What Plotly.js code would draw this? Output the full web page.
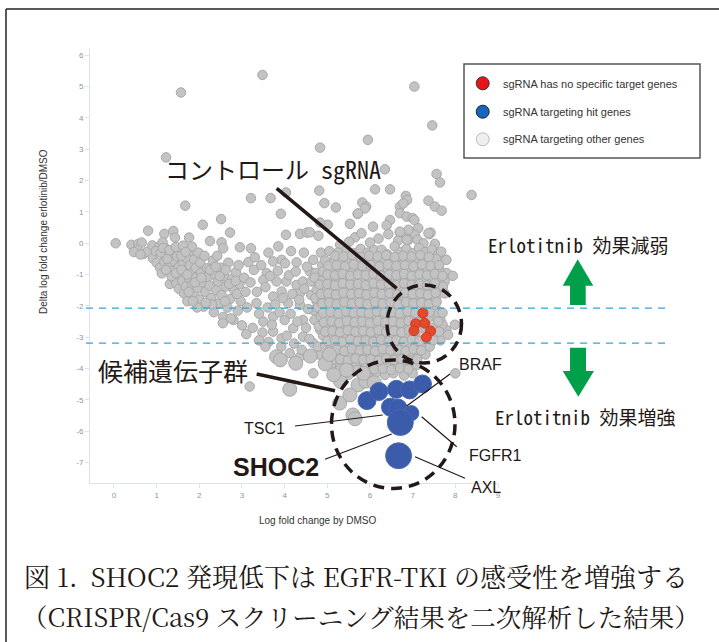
<!DOCTYPE html>
<html><head><meta charset="utf-8">
<script src="https://cdn.plot.ly/plotly-3.0.1.min.js"></script>
<style>body{margin:0;background:#fff}#chart{width:719px;height:642px}</style>
</head><body><div id="chart"></div>
<script>
// ---------- data ----------
const xTickVals = [0,1,2,3,4,5,6,7,8,9];
const xTickText = ["0","1","2","3","4","5","6","7","8","9"];
const yTickVals = [-7,-6,-5,-4,-3,-2,-1,0,1,2,3,4,5,6];
const yTickText = ["-7","-6","-5","-4","-3","-2","-1","0","1","2","3","4","5","6"];
const thresholds = [-2.07, -3.19];

const legendLabels = ["sgRNA has no specific target genes","sgRNA targeting hit genes","sgRNA targeting other genes"];

// sgRNA has no specific target genes (control)
const ctrlX = [7.24, 7.07, 7.28, 7.03, 7.42, 7.32];
const ctrlY = [-2.23, -2.57, -2.55, -2.79, -2.80, -3.00];

// sgRNA targeting hit genes
const hitX = [5.93, 6.21, 6.62, 6.93, 7.23, 6.48, 6.66, 6.97, 6.71, 6.67];
const hitY = [-5.02, -4.73, -4.66, -4.68, -4.49, -5.23, -5.26, -5.42, -5.72, -6.78];
const hitSize = [18, 18, 18, 18, 18, 18, 18, 15, 26, 26];

// sgRNA targeting other genes
const outlierPts = [[1.57,4.81],[3.48,5.37],[7.04,5.0],[7.46,3.76],[5.95,3.30],[4.83,3.05],[1.22,2.74],[6.35,2.36],[7.56,2.21],[7.64,1.94],[6.12,1.72],[6.47,1.72],[4.81,1.68],[4.03,1.62],[8.38,1.54],[3.21,1.44],[3.67,1.44],[6.84,1.51],[7.37,1.36],[4.93,1.28],[5.2,1.14],[5.82,1.30],[5.91,1.17],[6.70,1.17],[7.52,1.17],[7.68,1.04],[1.67,1.20],[3.91,0.94],[5.71,0.94],[6.70,0.96],[6.86,0.85],[7.0,0.80],[7.04,0.74],[2.51,0.77],[6.47,0.74],[6.39,0.57],[5.53,0.62],[5.01,0.59],[4.83,0.66],[2.08,0.59],[0.04,0.0],[3.18,-4.57],[6.87,1.38],[6.78,1.27],[5.88,1.11],[5.72,0.95],[6.07,0.53],[7.13,0.48],[8.0,-4.15]];

const leftArmPts = [[0.80,0.40],[1.18,0.30],[1.39,0.39],[1.43,0.18],[1.76,0.18],[2.25,0.07],[2.72,0.34],[2.52,0.03],[2.56,-0.16],[2.95,-0.13],[3.21,-0.16],
[0.41,-0.05],[0.57,-0.02],[0.65,0.02],[0.55,-0.21],[0.69,-0.34],[0.78,-0.27],[0.90,-0.07],[0.91,-0.48],[1.06,-0.11],[1.14,0.03],[1.23,-0.19],[1.20,-0.43],[1.59,-0.19],[1.74,-0.32],[1.83,-0.11],[0.47,-0.28],[0.62,-0.36],[0.98,-0.25],[1.0,-0.62],[1.08,-0.78],[1.12,-0.96],[1.18,-0.60],[1.28,-0.72],[1.33,-0.34],[1.38,-0.88],[1.42,-0.58],[1.48,-0.42],[1.52,-0.75],[1.55,-1.02],[1.62,-0.62],[1.66,-0.86],[1.70,-0.48],[1.78,-0.70],[1.82,-0.95],[1.88,-0.52],[1.92,-0.78],[1.98,-0.30],[2.02,-0.62],[1.31,-1.30],[1.40,-1.12],[1.46,-1.28],[1.52,-1.45],[1.60,-1.20],[1.64,-1.60],[1.68,-1.38],[1.72,-1.85],[1.76,-1.12],[1.84,-1.32],[1.88,-1.62],[1.92,-1.10],[1.96,-1.42],[2.0,-1.80],[2.04,-0.95],[2.08,-1.25],[2.10,-2.02],[2.14,-1.55],[2.18,-0.80],[2.20,-1.08],[2.24,-1.35],[2.28,-1.75],[2.32,-0.55],[2.34,-2.20],[2.36,-1.00],[2.40,-1.50],[2.44,-1.22],[2.46,-1.92],[2.50,-0.78],[2.52,-1.65],[2.56,-2.35],[2.58,-1.05],[2.62,-1.38],[2.66,-2.05],[2.68,-0.62],[2.72,-1.78],[2.76,-1.15],[2.80,-2.45],[2.82,-1.50],[2.86,-0.92],[2.90,-2.15],[2.94,-1.30],[2.97,-1.85],[3.0,-2.62],
[1.10,-0.30],[1.25,-0.50],[1.35,-1.05],[1.58,-0.40],[1.75,-1.55],[1.95,-2.05],[2.12,-0.40],[2.30,-1.95],[2.60,-1.85],[2.74,-2.40],[2.88,-1.62],[2.42,-0.40],[2.15,-1.90],[1.85,-1.85],[2.55,-2.55],
[1.15,-0.15],[1.30,-0.22],[1.45,-0.12],[1.62,-0.08],[1.68,-0.28],[1.22,-0.85],[1.45,-0.95],[1.58,-0.85],[1.72,-1.00],[1.90,-1.25],[2.05,-1.10],[2.25,-0.85],[2.38,-0.75],[2.48,-1.05],[2.62,-0.85],[2.70,-1.30],[2.85,-1.20],[2.92,-0.70],[3.05,-1.10],[3.08,-1.55],[3.12,-2.05],[3.15,-0.60]];

const midBandPts = [[3.73,-0.58],[3.93,-0.53],[4.01,-0.64],[4.28,-0.61],[4.67,-0.53],[5.06,-0.64],[4.59,-0.90],[3.58,-0.96],[3.50,-1.17],[3.81,-1.22],[4.04,-1.22],[4.28,-1.33],[4.43,-1.22],[4.63,-1.22],[4.98,-1.49],[4.36,-1.59],[3.93,-1.54],[3.73,-1.70],[3.34,-1.91],[4.08,-1.91],[4.36,-1.97],[4.67,-2.13],[5.14,-2.02],[4.90,-2.45],[4.43,-2.45],[4.00,-2.45],[3.73,-2.34],[3.50,-2.50],[4.20,-2.71],[3.73,-2.82],[3.93,-3.03],[4.43,-2.98],[4.83,-2.76],[5.14,-2.66],[5.06,-2.98],[4.67,-3.19],[4.12,-3.51],[4.36,-3.62],[3.89,-3.78],[4.83,-3.56],[4.67,-4.15],
[3.20,-1.25],[3.28,-0.85],[3.35,-1.55],[3.40,-2.25],[3.45,-0.70],[3.48,-2.85],[3.55,-1.40],[3.60,-2.05],[3.62,-3.15],[3.66,-1.05],[3.70,-2.60],[3.78,-1.95],[3.84,-0.88],[3.88,-2.20],[3.92,-3.30],[3.96,-1.75],[4.05,-2.95],[4.10,-1.02],[4.14,-2.25],[4.18,-1.62],[4.22,-3.20],[4.26,-0.90],[4.30,-2.50],[4.34,-1.80],[4.40,-3.40],[4.46,-1.45],[4.50,-2.70],[4.52,-0.75],[4.55,-2.10],[4.58,-3.05],[4.62,-1.65],[4.70,-2.45],[4.72,-0.95],[4.75,-1.85],[4.78,-3.30],[4.80,-1.35],[4.86,-2.20],[4.88,-0.70],[4.92,-1.70],[4.95,-2.95],[3.25,-2.70],[3.55,-3.30],[3.30,-0.45],[3.62,-0.30],[4.15,-0.25],[4.36,0.30],[4.52,0.34],[4.59,0.35],[4.79,0.24],[4.03,0.27],[4.85,-0.30],[4.45,-0.30],[3.85,-0.10],[3.10,-2.90],[3.40,-3.10]];

const rightClusterPts = [[5.65,0.19],[5.80,0.32],[6.43,0.29],[6.70,0.34],[6.82,0.32],[6.94,0.32],[7.05,0.27],[7.39,0.29],[7.42,0.34],[5.51,0.05],[6.66,0.09],[6.90,0.11],[7.11,0.11],[7.25,0.0],[7.52,-0.02],[6.9,0.43],[6.7,0.37],[7.37,0.32],[6.86,0.11],[6.2,0.15],[6.0,0.02],[5.3,-0.05],
[5.05,-0.25],[5.25,-0.30],[5.45,-0.20],[5.62,-0.32],[5.78,-0.18],[5.95,-0.30],[6.10,-0.22],[6.27,-0.21],[6.40,-0.35],[6.58,-0.10],[6.72,-0.28],[6.85,-0.18],[7.00,-0.32],[7.15,-0.15],[7.30,-0.28],[7.45,-0.20],[7.60,-0.35],[7.67,-0.27],
[4.95,-0.55],[5.15,-0.62],[5.35,-0.50],[5.50,-0.65],[5.68,-0.55],[5.85,-0.68],[6.02,-0.50],[6.18,-0.60],[6.35,-0.52],[6.50,-0.66],[6.65,-0.55],[6.80,-0.62],[6.95,-0.50],[7.10,-0.64],[7.25,-0.52],[7.40,-0.60],[7.55,-0.50],[7.79,-0.53],
[4.90,-0.90],[5.08,-0.82],[5.25,-0.92],[5.42,-0.80],[5.58,-0.95],[5.75,-0.85],[5.92,-0.92],[6.08,-0.80],[6.25,-0.90],[6.42,-0.82],[6.58,-0.95],[6.75,-0.85],[6.90,-0.92],[7.05,-0.80],[7.20,-0.90],[7.35,-0.82],[7.50,-0.95],[7.64,-0.88],[7.80,-0.95],[7.94,-1.04],
[4.70,-1.10],[4.88,-1.20],[5.05,-1.12],[5.20,-1.22],[5.38,-1.10],[5.55,-1.20],[5.70,-1.12],[5.86,-1.22],[6.02,-1.10],[6.18,-1.20],[6.34,-1.12],[6.50,-1.22],[6.66,-1.10],[6.82,-1.20],[6.98,-1.12],[7.14,-1.22],[7.30,-1.10],[7.46,-1.20],[7.62,-1.12],[7.75,-1.22],
[4.75,-1.50],[4.92,-1.42],[5.10,-1.50],[5.28,-1.40],[5.45,-1.52],[5.62,-1.42],[5.78,-1.50],[5.95,-1.40],[6.12,-1.52],[6.28,-1.42],[6.45,-1.50],[6.62,-1.40],[6.78,-1.52],[6.95,-1.42],[7.10,-1.50],[7.26,-1.40],[7.42,-1.52],[7.58,-1.42],[7.71,-1.38],
[4.72,-1.75],[4.88,-1.82],[5.05,-1.72],[5.22,-1.80],[5.40,-1.70],[5.56,-1.82],[5.72,-1.72],[5.88,-1.80],[6.05,-1.70],[6.22,-1.82],[6.38,-1.72],[6.55,-1.80],[6.72,-1.70],[6.88,-1.82],[7.05,-1.72],[7.22,-1.80],[7.38,-1.70],[7.55,-1.78],[7.75,-1.60],
[4.78,-2.05],[4.95,-2.12],[5.12,-2.02],[5.30,-2.10],[5.48,-2.00],[5.64,-2.12],[5.80,-2.02],[5.96,-2.10],[6.12,-2.00],[6.28,-2.12],[6.44,-2.02],[6.60,-2.10],[6.76,-2.00],[6.92,-2.12],[7.08,-2.02],[7.40,-2.05],[7.56,-2.12],
[4.85,-2.35],[5.02,-2.42],[5.20,-2.32],[5.36,-2.40],[5.52,-2.30],[5.68,-2.42],[5.84,-2.32],[6.00,-2.40],[6.16,-2.30],[6.32,-2.42],[6.48,-2.32],[6.64,-2.40],[6.80,-2.30],[6.92,-2.42],[7.52,-2.35],[7.65,-2.45],
[4.80,-2.65],[4.98,-2.72],[5.15,-2.62],[5.32,-2.70],[5.48,-2.60],[5.64,-2.72],[5.80,-2.62],[5.96,-2.70],[6.12,-2.60],[6.28,-2.72],[6.44,-2.62],[6.60,-2.70],[6.76,-2.62],[6.88,-2.75],[7.55,-2.65],[7.79,-2.77],[7.99,-2.60],
[4.90,-2.95],[5.08,-3.02],[5.25,-2.92],[5.42,-3.00],[5.58,-2.90],[5.74,-3.02],[5.90,-2.92],[6.06,-3.00],[6.22,-2.90],[6.38,-3.02],[6.54,-2.92],[6.70,-3.00],[6.86,-2.92],[7.10,-3.05],[7.50,-2.95],[7.83,-2.92],
[4.95,-3.25],[5.12,-3.32],[5.30,-3.22],[5.46,-3.30],[5.62,-3.20],[5.78,-3.32],[5.94,-3.22],[6.10,-3.30],[6.26,-3.20],[6.42,-3.32],[6.58,-3.22],[6.74,-3.30],[6.90,-3.22],[7.06,-3.32],[7.22,-3.25],[7.40,-3.30],
[5.00,-3.55],[5.18,-3.62],[5.36,-3.52],[5.52,-3.60],[5.68,-3.50],[5.84,-3.62],[6.00,-3.52],[6.16,-3.60],[6.32,-3.50],[6.48,-3.62],[6.64,-3.52],[6.80,-3.60],[6.96,-3.52],[7.12,-3.62],[7.30,-3.55],
[5.10,-3.85],[5.30,-3.92],[5.50,-3.82],[5.68,-3.90],[5.86,-3.80],[6.04,-3.92],[6.22,-3.82],[6.40,-3.90],[6.58,-3.82],[6.76,-3.90],[6.94,-3.82],[7.10,-3.88],
[5.25,-4.15],[5.50,-4.20],[5.75,-4.12],[5.95,-4.22],[6.15,-4.12],[6.35,-4.20],[6.55,-4.15],[6.80,-4.22],[7.00,-4.15],
[7.20,-2.05],[7.25,-2.35],[7.35,-2.40],[7.45,-2.70],[7.20,-2.70],[7.30,-3.05],[7.65,-3.10],[7.15,-2.50],[7.60,-2.25],[7.40,-2.90],[7.70,-2.60],[7.05,-2.45],[7.10,-2.80]];

const clusterCorePts = [[5.18,-0.40],[5.38,-0.42],[5.58,-0.38],[5.78,-0.44],[5.98,-0.40],[6.18,-0.42],[6.38,-0.38],[6.58,-0.44],[6.78,-0.40],[6.98,-0.42],[7.18,-0.38],[7.38,-0.44],
[5.02,-0.72],[5.22,-0.70],[5.42,-0.74],[5.62,-0.68],[5.82,-0.72],[6.02,-0.70],[6.22,-0.74],[6.42,-0.68],[6.62,-0.72],[6.82,-0.70],[7.02,-0.74],[7.22,-0.68],[7.42,-0.72],[7.62,-0.70],
[5.00,-1.00],[5.18,-1.02],[5.36,-0.98],[5.54,-1.04],[5.72,-1.00],[5.90,-1.02],[6.08,-0.98],[6.26,-1.04],[6.44,-1.00],[6.62,-1.02],[6.80,-0.98],[6.98,-1.04],[7.16,-1.00],[7.34,-1.02],[7.52,-0.98],[7.70,-1.04],
[4.82,-1.32],[5.00,-1.30],[5.18,-1.34],[5.36,-1.28],[5.54,-1.32],[5.72,-1.30],[5.90,-1.34],[6.08,-1.28],[6.26,-1.32],[6.44,-1.30],[6.62,-1.34],[6.80,-1.28],[6.98,-1.32],[7.16,-1.30],[7.34,-1.34],[7.52,-1.28],
[4.85,-1.62],[5.02,-1.60],[5.20,-1.64],[5.38,-1.58],[5.56,-1.62],[5.74,-1.60],[5.92,-1.64],[6.10,-1.58],[6.28,-1.62],[6.46,-1.60],[6.64,-1.64],[6.82,-1.58],[7.00,-1.62],[7.18,-1.60],[7.36,-1.64],[7.54,-1.58],
[4.88,-1.92],[5.05,-1.90],[5.22,-1.94],[5.40,-1.88],[5.58,-1.92],[5.76,-1.90],[5.94,-1.94],[6.12,-1.88],[6.30,-1.92],[6.48,-1.90],[6.66,-1.94],[6.84,-1.88],[7.02,-1.92],[7.20,-1.90],[7.38,-1.94],[7.56,-1.88],
[4.90,-2.22],[5.08,-2.20],[5.26,-2.24],[5.44,-2.18],[5.62,-2.22],[5.80,-2.20],[5.98,-2.24],[6.16,-2.18],[6.34,-2.22],[6.52,-2.20],[6.70,-2.24],[6.88,-2.18],[7.06,-2.22],[7.40,-2.20],[7.70,-2.22],
[4.92,-2.52],[5.10,-2.50],[5.28,-2.54],[5.46,-2.48],[5.64,-2.52],[5.82,-2.50],[6.00,-2.54],[6.18,-2.48],[6.36,-2.52],[6.54,-2.50],[6.72,-2.54],[6.90,-2.48],[7.60,-2.50],
[4.95,-2.82],[5.12,-2.80],[5.30,-2.84],[5.48,-2.78],[5.66,-2.82],[5.84,-2.80],[6.02,-2.84],[6.20,-2.78],[6.38,-2.82],[6.56,-2.80],[6.74,-2.84],[6.92,-2.78],[7.62,-2.82],
[5.00,-3.12],[5.18,-3.10],[5.36,-3.14],[5.54,-3.08],[5.72,-3.12],[5.90,-3.10],[6.08,-3.14],[6.26,-3.08],[6.44,-3.12],[6.62,-3.10],[6.80,-3.14],[6.98,-3.08],[7.16,-3.12],[7.48,-3.10],
[5.05,-3.42],[5.22,-3.40],[5.40,-3.44],[5.58,-3.38],[5.76,-3.42],[5.94,-3.40],[6.12,-3.44],[6.30,-3.38],[6.48,-3.42],[6.66,-3.40],[6.84,-3.44],[7.02,-3.38],[7.20,-3.42],
[5.12,-3.72],[5.30,-3.70],[5.48,-3.74],[5.66,-3.68],[5.84,-3.72],[6.02,-3.70],[6.20,-3.74],[6.38,-3.68],[6.56,-3.72],[6.74,-3.70],[6.92,-3.74],[7.10,-3.70],
[5.30,-4.02],[5.50,-4.00],[5.70,-4.04],[5.90,-3.98],[6.10,-4.02],[6.30,-4.00],[6.50,-4.04],[6.70,-3.98],[6.90,-4.02]];

const bigPts = [[5.31,-4.41],[5.29,-5.10],[5.60,-5.48],[5.65,-5.60],[4.12,-4.66],[5.72,-4.52],[5.53,-4.84],[3.81,-3.62],[3.90,-3.72],[4.26,-3.83],[5.90,-4.40],[6.10,-4.45],[5.45,-4.05],[5.85,-4.15],[4.95,-3.85],[5.15,-4.20],[5.05,-3.55],[4.60,-3.60]];

// ---------- build ----------
const otherPts = outlierPts.concat(leftArmPts, midBandPts, rightClusterPts, clusterCorePts);
const W = 719, H = 642, ML = 90, MR = 221, MT = 48, MB = 159;
const PW = W - ML - MR, PH = H - MT - MB;
const px = X => (X - ML) / PW;
const py = Y => (H - MB - Y) / PH;
const INK = '#231815';
const JP = 'Noto Sans Mono CJK JP, Noto Sans CJK JP, sans-serif';
const JPSERIF = 'Noto Serif CJK JP, Noto Sans Mono CJK JP, Noto Sans CJK JP, serif';
const SANS = 'Liberation Sans, Arial, sans-serif';

const grayMarker = {color:'#c3c3c3', opacity:1, line:{color:'#a8a8a8', width:1}};
const traces = [
  {type:'scatter', mode:'markers', name:legendLabels[2], x:otherPts.map(p=>p[0]), y:otherPts.map(p=>p[1]),
   marker:Object.assign({size:9.5}, grayMarker), showlegend:false, hoverinfo:'skip'},
  {type:'scatter', mode:'markers', name:legendLabels[2], x:bigPts.map(p=>p[0]), y:bigPts.map(p=>p[1]),
   marker:Object.assign({size:14}, grayMarker), showlegend:false, hoverinfo:'skip'},
  {type:'scatter', mode:'markers', name:legendLabels[1], x:hitX, y:hitY,
   marker:{size:hitSize, opacity:1, color:'#3b5bab', line:{color:'#4a68b5', width:1}}, showlegend:false, hoverinfo:'skip'},
  {type:'scatter', mode:'markers', name:legendLabels[0], x:ctrlX, y:ctrlY,
   marker:{size:10, opacity:1, color:'#e14a2c', line:{color:'#cf3b22', width:1}}, showlegend:false, hoverinfo:'skip'}
];

function line(x0,y0,x1,y1,w,dash){
  return {type:'line', xref:'paper', yref:'paper', x0:px(x0), y0:py(y0), x1:px(x1), y1:py(y1),
          line:{color:INK, width:w, dash:dash||'solid'}, layer:'above'};
}
function poly(pts, color){
  const d = pts.map((p,i)=>(i?'L':'M')+px(p[0]).toFixed(5)+','+py(p[1]).toFixed(5)).join(' ')+' Z';
  return {type:'path', xref:'paper', yref:'paper', path:d, fillcolor:color, line:{width:0}, layer:'above'};
}
const shapes = [
  {type:'line', xref:'paper', yref:'paper', x0:px(6), x1:px(719), y0:py(9), y1:py(9), line:{color:'#222', width:1.5}},
  {type:'line', xref:'paper', yref:'paper', x0:px(6), x1:px(6), y0:py(9), y1:py(642), line:{color:'#222', width:1.5}},
  ...thresholds.map(t=>({type:'line', xref:'paper', yref:'y', x0:px(86), x1:px(670), y0:t, y1:t,
      line:{color:'#2ba6e0', width:1.3, dash:'7px,6px'}, layer:'above'})),
  {type:'circle', xref:'paper', yref:'paper', x0:px(387), x1:px(461.5), y0:py(363), y1:py(285),
   line:{color:INK, width:3.5, dash:'11px,7px'}, layer:'above'},
  {type:'circle', xref:'paper', yref:'paper', x0:px(331.5), x1:px(455), y0:py(488.5), y1:py(360),
   line:{color:INK, width:3.5, dash:'11px,7px'}, layer:'above'},
  line(276.7,188.3,396.7,288.3,3.5),
  line(256.7,374,335,390.7,3.5),
  line(325,459.3,391.7,434,1.2),
  line(295,426,382.7,415,1.2),
  line(450,374,406.7,406,1.2),
  line(421.7,416.7,456.7,446.7,1.2),
  line(415,456.7,465,478.3,1.2),
  poly([[577.7,259.3],[593.3,285.7],[585.7,285.7],[585.7,305],[570,305],[570,285.7],[562.7,285.7]], '#00a04a'),
  poly([[570,347.7],[586,347.7],[586,371],[594,371],[578.3,396.7],[562.7,371],[570,371]], '#00a04a'),
  {type:'rect', xref:'paper', yref:'paper', x0:px(464), x1:px(700), y0:py(158), y1:py(64),
   fillcolor:'#ffffff', line:{color:'#555555', width:1.5}, layer:'above'},
  {type:'circle', xref:'paper', yref:'paper', x0:px(476.2), x1:px(489.2), y0:py(89.8), y1:py(76.8),
   fillcolor:'#e8141c', line:{color:'#333', width:1}, layer:'above'},
  {type:'circle', xref:'paper', yref:'paper', x0:px(476.2), x1:px(489.2), y0:py(118.2), y1:py(105.2),
   fillcolor:'#1566bd', line:{color:'#222', width:1}, layer:'above'},
  {type:'circle', xref:'paper', yref:'paper', x0:px(476.2), x1:px(489.2), y0:py(145.8), y1:py(132.8),
   fillcolor:'#eeeeee', line:{color:'#bbbbbb', width:1}, layer:'above'}
];

function ann(text, X, Y, size, family, opts){
  return Object.assign({text:text, xref:'paper', yref:'paper', x:px(X), y:py(Y), xanchor:'left', yanchor:'middle',
    showarrow:false, font:{size:size, family:family, color:INK}}, opts||{});
}
const annotations = [
  ann('コントロール sgRNA', 163, 168, 24, JP),
  ann('候補遺伝子群', 96, 370, 25, JP),
  ann('<b>SHOC2</b>', 231, 467, 25, SANS),
  ann('TSC1', 242, 428, 16, SANS),
  ann('BRAF', 457, 364, 16, SANS),
  ann('FGFR1', 467, 455, 16, SANS),
  ann('AXL', 469, 487, 16, SANS),
  ann('Erlotitnib 効果減弱', 486, 244, 19, JP),
  ann('Erlotitnib 効果増強', 493, 416, 19, JP),
  ann(legendLabels[0], 501, 83.5, 11, SANS, {font:{size:11, family:SANS, color:'#333'}}),
  ann(legendLabels[1], 501, 111.5, 11, SANS, {font:{size:11, family:SANS, color:'#333'}}),
  ann(legendLabels[2], 501, 139, 11, SANS, {font:{size:11, family:SANS, color:'#333'}}),
  ann('Delta log fold change erlotinib/DMSO', 43, 232, 10, SANS, {xanchor:'center', textangle:-90, font:{size:10, family:SANS, color:'#333'}}),
  ann('Log fold change by DMSO', 318, 520, 10, SANS, {xanchor:'center', font:{size:10, family:SANS, color:'#333'}}),
  ann('図 1.  SHOC2 発現低下は EGFR-TKI の感受性を増強する', 22, 575, 26, JPSERIF),
  ann('（CRISPR/Cas9 スクリーニング結果を二次解析した結果）', 20, 616, 25.5, JPSERIF)
];

const axisCommon = {showgrid:false, zeroline:false, showline:true, linecolor:'#dfe1ee', linewidth:1,
  ticks:'outside', ticklen:4, tickcolor:'#dfe1ee', tickfont:{size:8, family:SANS, color:'#8796a8'}, fixedrange:true};

const layout = {
  width:W, height:H, margin:{l:ML, r:MR, t:MT, b:MB}, paper_bgcolor:'#ffffff', plot_bgcolor:'#ffffff',
  showlegend:false,
  xaxis:Object.assign({range:[-0.562, 9.0], tickvals:xTickVals, ticktext:xTickText}, axisCommon),
  yaxis:Object.assign({range:[-7.65, 6.23], tickvals:yTickVals, ticktext:yTickText}, axisCommon),
  shapes:shapes, annotations:annotations
};
Plotly.newPlot('chart', traces, layout, {displayModeBar:false, staticPlot:true});
</script></body></html>
